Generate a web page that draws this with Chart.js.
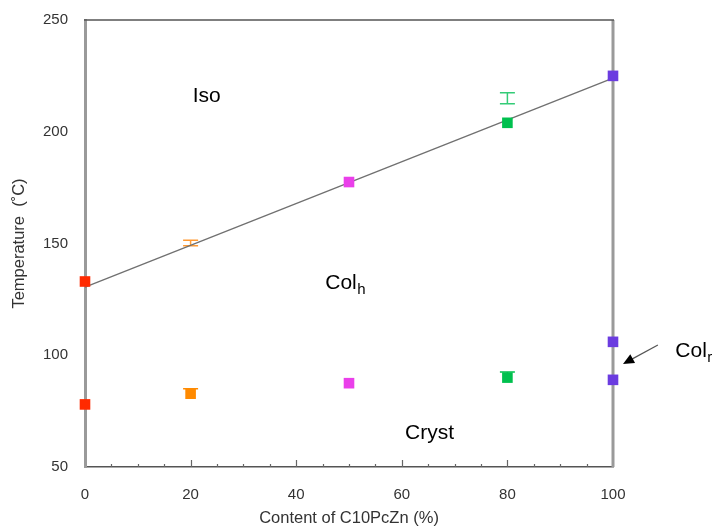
<!DOCTYPE html>
<html>
<head>
<meta charset="utf-8">
<script src="https://cdn.jsdelivr.net/npm/chart.js@4.4.1/dist/chart.umd.min.js"></script>
<style>
    html, body { margin: 0; padding: 0; background: #fff; }
    #chartContainer { width: 720px; height: 527px; }
</style>
</head>
<body>
<div id="chartContainer"><canvas id="phaseChart"></canvas></div>
<script>
// Phase diagram values
const contentTicks = [0, 20, 40, 60, 80, 100];
const tempTicks = [50, 100, 150, 200, 250];

const redPoints = [{ x: 0, y: 133 }, { x: 0, y: 78 }];
const orangePoints = [{ x: 20, y: 82.8 }];
const magentaPoints = [{ x: 50, y: 177.5 }, { x: 50, y: 87.5 }];
const greenPoints = [{ x: 80, y: 204 }, { x: 80, y: 90 }];
const purplePoints = [{ x: 100, y: 225 }, { x: 100, y: 106 }, { x: 100, y: 89 }];
const fitLine = [{ x: 0, y: 130.5 }, { x: 100, y: 224 }];

// error bars (x, low, high)
const errX = [20, 80, 20, 80];
const errLow = [149, 212.5, 82.8, 90];
const errHigh = [151.5, 217.5, 85, 92.5];

const tickFont = { family: "'Liberation Sans Narrow', 'Liberation Sans', Arial, sans-serif", size: 15 };
const titleFont = { family: "'Liberation Sans Narrow', 'Liberation Sans', Arial, sans-serif", size: 16.5 };

// error bars drawn under the markers
const errorBarPlugin = {
    id: "errorBars",
    beforeDatasetsDraw(chart, args, opts) {
        const { ctx, scales: { x, y } } = chart;
        const w = opts.capWidth / 2;
        ctx.save();
        ctx.lineWidth = opts.lineWidth;
        errX.forEach((v, i) => {
            const px = x.getPixelForValue(v);
            const top = y.getPixelForValue(errHigh[i]);
            const bot = y.getPixelForValue(errLow[i]);
            ctx.strokeStyle = opts.colors[i];
            ctx.beginPath();
            ctx.moveTo(px, top);
            ctx.lineTo(px, bot);
            ctx.moveTo(px - w, top);
            ctx.lineTo(px + w, top);
            if (opts.bottomCaps[i]) {
                ctx.moveTo(px - w, bot);
                ctx.lineTo(px + w, bot);
            }
            ctx.stroke();
        });
        ctx.restore();
    }
};

// top/right frame and inward minor ticks on the x axis
const framePlugin = {
    id: "frame",
    beforeDatasetsDraw(chart) {
        const { ctx, chartArea: a, scales: { x } } = chart;
        ctx.save();
        ctx.strokeStyle = "#9a9a9a";
        ctx.lineWidth = 3;
        ctx.beginPath();
        ctx.moveTo(a.right, a.top);
        ctx.lineTo(a.right, a.bottom);
        ctx.stroke();
        ctx.strokeStyle = "#555";
        ctx.lineWidth = 1.5;
        ctx.beginPath();
        ctx.moveTo(a.left - 1, a.top);
        ctx.lineTo(a.right + 1, a.top);
        ctx.stroke();
        ctx.strokeStyle = "#666";
        ctx.lineWidth = 1.2;
        ctx.beginPath();
        for (let v = 5; v < 100; v += 5) {
            const px = Math.round(x.getPixelForValue(v)) + 0.5;
            const len = v % 20 === 0 ? 7 : 3;
            ctx.moveTo(px, a.bottom);
            ctx.lineTo(px, a.bottom - len);
        }
        ctx.stroke();
        ctx.restore();
    }
};

// phase labels and the arrow
const notesPlugin = {
    id: "notes",
    afterDatasetsDraw(chart) {
        const { ctx, scales: { x, y } } = chart;
        const big = "21px 'Liberation Sans', Arial, sans-serif";
        const small = "15px 'Liberation Sans', Arial, sans-serif";
        const notes = [
            { t: "Iso", s: "", x: 20.4, y: 213.5 },
            { t: "Col", s: "h", x: 45.5, y: 129.6 },
            { t: "Cryst", s: "", x: 60.6, y: 62.5 },
            { t: "Col", s: "r", x: 111.8, y: 99.2 }
        ];
        ctx.save();
        ctx.fillStyle = "#000";
        ctx.textAlign = "left";
        ctx.textBaseline = "alphabetic";
        notes.forEach(n => {
            const px = x.getPixelForValue(n.x);
            const py = y.getPixelForValue(n.y);
            ctx.font = big;
            ctx.fillText(n.t, px, py);
            if (n.s) {
                const w = ctx.measureText(n.t).width;
                ctx.font = small;
                ctx.fillText(n.s, px + w + 0.5, py + 5);
            }
        });
        // arrow pointing at the Col_r range
        const x1 = x.getPixelForValue(108.5), y1 = y.getPixelForValue(104.6);
        const x2 = x.getPixelForValue(101.9), y2 = y.getPixelForValue(96.1);
        const ang = Math.atan2(y2 - y1, x2 - x1);
        ctx.strokeStyle = "#555";
        ctx.lineWidth = 1.2;
        ctx.beginPath();
        ctx.moveTo(x1, y1);
        ctx.lineTo(x2 - 8 * Math.cos(ang), y2 - 8 * Math.sin(ang));
        ctx.stroke();
        ctx.fillStyle = "#000";
        ctx.beginPath();
        ctx.moveTo(x2, y2);
        ctx.lineTo(x2 - 11 * Math.cos(ang) + 5 * Math.sin(ang), y2 - 11 * Math.sin(ang) - 5 * Math.cos(ang));
        ctx.lineTo(x2 - 11 * Math.cos(ang) - 5 * Math.sin(ang), y2 - 11 * Math.sin(ang) + 5 * Math.cos(ang));
        ctx.closePath();
        ctx.fill();
        ctx.restore();
    }
};

function markerSet(points, color) {
    return {
        data: points,
        pointStyle: "rect",
        pointRadius: 7.5,
        pointHoverRadius: 7.5,
        pointBackgroundColor: color,
        pointBorderColor: color,
        pointBorderWidth: 0,
        showLine: false,
        clip: false,
        order: 0
    };
}

const ctx = document.getElementById("phaseChart").getContext("2d");
new Chart(ctx, {
    type: "scatter",
    data: {
        datasets: [
            markerSet(redPoints, "#ff2a00"),
            markerSet(orangePoints, "#ff8a00"),
            markerSet(magentaPoints, "#ea3fea"),
            markerSet(greenPoints, "#00c04e"),
            markerSet(purplePoints, "#6b3ce0"),
            {
                data: fitLine,
                showLine: true,
                borderColor: "#707070",
                borderWidth: 1.3,
                pointRadius: 0,
                clip: false,
                order: 1
            }
        ]
    },
    options: {
        responsive: true,
        maintainAspectRatio: false,
        animation: false,
        devicePixelRatio: 1,
        layout: { padding: { top: 20, right: 107, bottom: 0, left: 0 } },
        plugins: {
            legend: { display: false },
            tooltip: { enabled: false },
            errorBars: {
                capWidth: 15,
                lineWidth: 1.5,
                colors: ["#ff9a33", "#33cc77", "#ff8a00", "#00c04e"],
                bottomCaps: [true, true, false, false]
            }
        },
        scales: {
            x: {
                type: "linear",
                min: 0,
                max: 100,
                afterBuildTicks: s => { s.ticks = contentTicks.map(v => ({ value: v })); },
                afterFit: s => { s.height = 60; s.paddingLeft = 0; s.paddingRight = 0; },
                grid: { display: false },
                border: { display: true, color: "#555", width: 1.5 },
                ticks: { color: "#333", font: tickFont, padding: 11, maxRotation: 0 },
                title: {
                    display: true,
                    text: "Content of C10PcZn (%)",
                    color: "#333",
                    font: titleFont,
                    padding: { top: 0, bottom: -1 }
                }
            },
            y: {
                type: "linear",
                min: 50,
                max: 250,
                afterBuildTicks: s => { s.ticks = tempTicks.map(v => ({ value: v })); },
                afterFit: s => { s.width = 85; s.paddingTop = 0; s.paddingBottom = 0; },
                grid: { display: false },
                border: { display: true, color: "#9a9a9a", width: 3 },
                ticks: { color: "#333", font: tickFont, padding: 9 },
                title: {
                    display: true,
                    text: "Temperature  (˚C)",
                    color: "#333",
                    font: titleFont,
                    padding: { top: 10, bottom: 0 }
                }
            }
        }
    },
    plugins: [errorBarPlugin, framePlugin, notesPlugin]
});
</script>
</body>
</html>
